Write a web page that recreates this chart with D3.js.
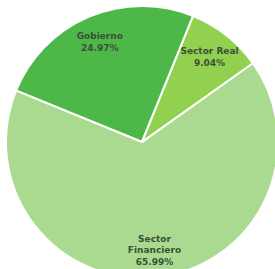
<!DOCTYPE html>
<html>
<head>
<meta charset="utf-8">
<script src="https://cdn.jsdelivr.net/npm/d3@7"></script>
<style>
  body { margin: 0; background: #fff; }
  svg { display: block; }
</style>
</head>
<body>
<div id="chart"></div>
<script>
// Datos del gráfico
const sectores = ["Gobierno", "Sector Real", "Sector Financiero"];
const porcentajes = [24.97, 9.04, 65.99];
const colores = ["#4db848", "#92d050", "#a9da8f"];
const etiquetas = [["Gobierno"], ["Sector Real"], ["Sector", "Financiero"]];

const width = 275, height = 269;
const cx = 142, cy = 142, radius = 136;

const svg = d3.select("#chart").append("svg")
    .attr("width", width)
    .attr("height", height);

const g = svg.append("g")
    .attr("transform", `translate(${cx},${cy})`);

const data = sectores.map((s, i) => ({ name: s, value: porcentajes[i], lines: etiquetas[i], color: colores[i] }));

const start = -67.8 * Math.PI / 180;
const pie = d3.pie()
    .sort(null)
    .value(d => d.value)
    .startAngle(start)
    .endAngle(start + 2 * Math.PI);

const arc = d3.arc().innerRadius(0).outerRadius(radius);
const labelArc = d3.arc().innerRadius(radius * 0.8).outerRadius(radius * 0.8);

const arcs = pie(data);

g.selectAll("path.slice")
    .data(arcs)
    .enter().append("path")
    .attr("class", "slice")
    .attr("d", arc)
    .attr("fill", d => d.data.color)
    .attr("stroke", "#fff")
    .attr("stroke-width", 2);

// Etiquetas
const lineH = 11.5;
const lbl = g.selectAll("text.lbl")
    .data(arcs)
    .enter().append("text")
    .attr("class", "lbl")
    .attr("text-anchor", "middle")
    .attr("font-family", "DejaVu Sans, Verdana, sans-serif")
    .attr("font-size", "9px")
    .attr("font-weight", "bold")
    .attr("fill", "#3b4f38")
    .attr("transform", d => {
        const [x, y] = labelArc.centroid(d);
        return `translate(${x},${y})`;
    });

lbl.each(function (d) {
    const lines = d.data.lines.concat([d.data.value.toFixed(2) + "%"]);
    const top = -(lines.length - 1) * lineH / 2;
    d3.select(this).selectAll("tspan")
        .data(lines)
        .enter().append("tspan")
        .attr("x", 0)
        .attr("y", (t, i) => top + i * lineH)
        .attr("dy", "0.35em")
        .text(t => t);
});
</script>
</body>
</html>
